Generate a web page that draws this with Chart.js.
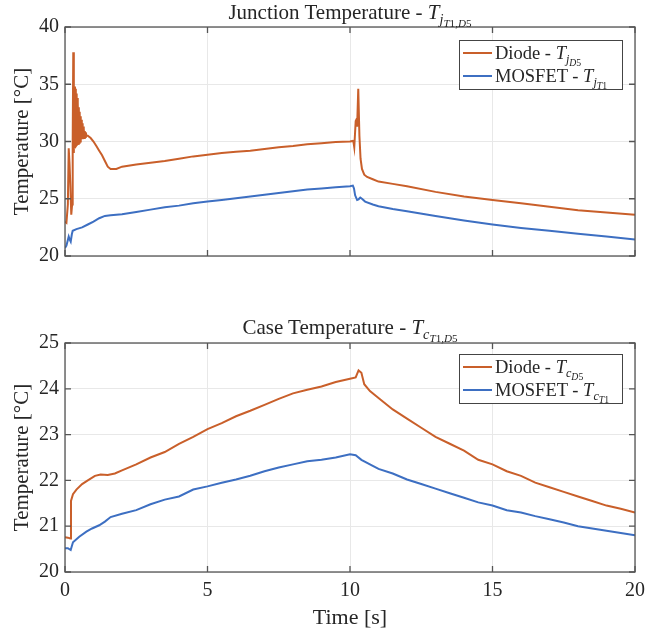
<!DOCTYPE html>
<html><head><meta charset="utf-8">
<script src="https://cdn.jsdelivr.net/npm/chart.js@4/dist/chart.umd.min.js"></script>
<style>
html,body{margin:0;padding:0;background:#fff;}
#wrap{position:relative;width:660px;height:631px;font-family:"Liberation Serif",serif;color:#262626;}
canvas{position:absolute;left:0;}
sub{line-height:0;vertical-align:-0.35em;}
sub sub{vertical-align:-0.3em;}
.title{position:absolute;left:65px;width:570px;text-align:center;font-size:21px;white-space:nowrap;line-height:24px;}
.title sub{font-size:68%;}
.title sub sub{font-size:78%;}
.legend{position:absolute;left:459px;width:162px;border:1px solid #444;background:#fff;font-size:18.5px;padding:0 0 2px 0;}
.legend .row{display:flex;align-items:center;height:23px;white-space:nowrap;line-height:22px;}
.legend .ln{width:29px;height:2px;margin-left:3px;margin-right:3px;flex:none;}
.legend sub{font-size:66%;}
.legend sub sub{font-size:80%;}
</style></head>
<body>
<div id="wrap">
  <canvas id="c1" width="660" height="300" style="top:0"></canvas>
  <canvas id="c2" width="660" height="331" style="top:300px"></canvas>
  <div class="title" style="top:0px">Junction Temperature - <i>T</i><sub><i>j</i><sub><i>T</i>1<i>,D</i>5</sub></sub></div>
  <div class="title" style="top:315px">Case Temperature - <i>T</i><sub><i>c</i><sub><i>T</i>1<i>,D</i>5</sub></sub></div>
  <div class="legend" style="top:40px">
    <div class="row"><span class="ln" style="background:#C95F2A"></span><span>Diode - <i>T</i><sub><i>j</i><sub><i>D</i>5</sub></sub></span></div>
    <div class="row"><span class="ln" style="background:#3D6FC2"></span><span>MOSFET - <i>T</i><sub><i>j</i><sub><i>T</i>1</sub></sub></span></div>
  </div>
  <div class="legend" style="top:354px">
    <div class="row"><span class="ln" style="background:#C95F2A"></span><span>Diode - <i>T</i><sub><i>c</i><sub><i>D</i>5</sub></sub></span></div>
    <div class="row"><span class="ln" style="background:#3D6FC2"></span><span>MOSFET - <i>T</i><sub><i>c</i><sub><i>T</i>1</sub></sub></span></div>
  </div>
</div>
<script>
// ---------- DATA ----------
const xTicks = [0, 5, 10, 15, 20];
const yTicksJ = [20, 25, 30, 35, 40];
const yTicksC = [20, 21, 22, 23, 24, 25];

// Junction temperature - Diode
const diodeJ_t = [0,0.05,0.1,0.13,0.16,0.19,0.22,0.25,0.27,0.29,0.31,0.335,0.35,0.365,0.38,0.395,0.41,0.425,0.44,0.455,0.47,0.485,0.5,0.515,0.53,0.545,0.56,0.575,0.59,0.605,0.62,0.635,0.65,0.665,0.68,0.695,0.71,0.73,0.75,0.8,0.9,1.0,1.1,1.2,1.3,1.4,1.5,1.6,1.8,2.0,2.5,3,3.5,4,4.5,5,5.5,6,6.5,7,7.5,8,8.5,9,9.5,10,10.1,10.12,10.15,10.2,10.22,10.25,10.29,10.33,10.37,10.42,10.5,10.6,10.8,11,11.5,12,13,14,15,16,17,18,19,20];
const diodeJ_v = [23.0,22.9,24.5,29.4,28.0,26.0,23.6,24.5,30.0,37.8,29.0,34.8,29.4,34.6,29.5,34.2,29.6,33.8,29.7,33.4,29.8,33.0,29.9,32.6,30.0,32.2,30.1,31.9,30.2,31.6,30.2,31.3,30.3,31.1,30.3,30.9,30.4,30.8,30.5,30.5,30.3,30.0,29.6,29.2,28.8,28.3,27.8,27.6,27.6,27.8,28.0,28.15,28.3,28.5,28.7,28.85,29.0,29.1,29.2,29.35,29.5,29.6,29.75,29.85,29.95,30.0,30.05,30.0,29.5,31.8,31.9,31.3,34.6,30.5,28.5,27.6,27.1,26.9,26.7,26.5,26.3,26.1,25.6,25.2,24.9,24.6,24.3,24.0,23.8,23.6];

// Junction temperature - MOSFET
const mosfetJ_t = [0,0.05,0.1,0.13,0.17,0.2,0.24,0.27,0.4,0.6,0.8,1.0,1.2,1.4,1.6,2,2.5,3,3.5,4,4.5,5,5.5,6,6.5,7,7.5,8,8.5,9,9.5,10,10.1,10.14,10.18,10.25,10.3,10.36,10.42,10.53,10.8,11,11.5,12,13,14,15,16,17,18,19,20];
const mosfetJ_v = [20.7,20.9,21.4,21.7,21.4,21.25,21.9,22.2,22.35,22.5,22.75,23.0,23.3,23.5,23.55,23.65,23.85,24.05,24.25,24.4,24.6,24.75,24.9,25.05,25.2,25.35,25.5,25.65,25.8,25.9,26.0,26.1,26.15,25.9,25.3,24.9,24.95,25.1,25.0,24.75,24.5,24.35,24.1,23.9,23.5,23.1,22.75,22.45,22.2,21.95,21.7,21.45];

// Case temperature - Diode
const diodeC_t = [0,0.1,0.19,0.21,0.28,0.4,0.6,0.8,1.05,1.25,1.5,1.75,2,2.5,3,3.5,4,4.5,5,5.5,6,6.5,7,7.5,8,8.5,9,9.5,10,10.2,10.3,10.4,10.5,10.7,11,11.5,12,12.5,13,13.5,14,14.5,15,15.5,16,16.5,17,17.5,18,18.5,19,19.5,20];
const diodeC_v = [20.76,20.75,20.73,21.55,21.7,21.8,21.92,22.0,22.1,22.13,22.12,22.15,22.22,22.35,22.5,22.62,22.8,22.95,23.12,23.25,23.4,23.52,23.65,23.78,23.9,23.98,24.05,24.15,24.22,24.25,24.4,24.35,24.1,23.95,23.8,23.55,23.35,23.15,22.95,22.8,22.65,22.45,22.35,22.2,22.1,21.95,21.85,21.75,21.65,21.55,21.45,21.38,21.3];

// Case temperature - MOSFET
const mosfetC_t = [0,0.1,0.2,0.28,0.5,0.75,0.95,1.2,1.4,1.6,2,2.5,3,3.5,4,4.5,5,5.5,6,6.5,7,7.5,8,8.5,9,9.5,10,10.2,10.4,10.7,11,11.5,12,12.5,13,13.5,14,14.5,15,15.5,16,16.5,17,17.5,18,18.5,19,19.5,20];
const mosfetC_v = [20.52,20.52,20.48,20.65,20.77,20.88,20.95,21.02,21.1,21.2,21.27,21.35,21.48,21.58,21.65,21.8,21.87,21.95,22.02,22.1,22.2,22.28,22.35,22.42,22.45,22.5,22.57,22.55,22.45,22.35,22.25,22.15,22.02,21.92,21.82,21.72,21.62,21.52,21.45,21.35,21.3,21.22,21.15,21.08,21.0,20.95,20.9,20.85,20.8];

// ---------- STYLE ----------
const ORANGE = '#C95F2A';
const BLUE = '#3D6FC2';
const AXIS = '#555555';
const GRID = '#e8e8e8';
const TXT = '#262626';
const FONT = 'Liberation Serif';

function pts(ts, vs){ return ts.map((t,i)=>({x:t, y:vs[i]})); }

const framePlugin = {
  id: 'frame',
  afterDraw(chart){
    const {ctx, chartArea:a, scales} = chart;
    const x = scales.x, y = scales.y;
    ctx.save();
    ctx.strokeStyle = AXIS;
    ctx.lineWidth = 1.3;
    ctx.strokeRect(a.left, a.top, a.right - a.left, a.bottom - a.top);
    const L = 6;
    ctx.beginPath();
    x.ticks.forEach(t => {
      const px = x.getPixelForValue(t.value);
      ctx.moveTo(px, a.bottom); ctx.lineTo(px, a.bottom - L);
      ctx.moveTo(px, a.top); ctx.lineTo(px, a.top + L);
    });
    y.ticks.forEach(t => {
      const py = y.getPixelForValue(t.value);
      ctx.moveTo(a.left, py); ctx.lineTo(a.left + L, py);
      ctx.moveTo(a.right, py); ctx.lineTo(a.right - L, py);
    });
    ctx.stroke();
    ctx.restore();
  }
};

function makeChart(id, series, yMin, yMax, yTicks, showX, pad, xHeight){
  return new Chart(document.getElementById(id), {
    type: 'line',
    data: {
      datasets: series.map(s => ({
        data: pts(s.t, s.v),
        borderColor: s.c,
        borderWidth: 2,
        pointRadius: 0,
        tension: 0,
        fill: false
      }))
    },
    options: {
      responsive: false,
      animation: false,
      events: [],
      layout: { padding: pad },
      plugins: { legend: { display: false }, title: { display: false }, tooltip: { enabled: false } },
      scales: {
        x: {
          type: 'linear', min: 0, max: 20,
          afterBuildTicks: sc => { sc.ticks = xTicks.map(v => ({value: v})); },
          afterFit: sc => { sc.height = xHeight; },
          ticks: { display: showX, color: TXT, font: { family: FONT, size: 20 }, padding: 7, maxRotation: 0 },
          grid: { color: GRID, drawTicks: false, lineWidth: 1 },
          border: { display: false },
          title: { display: showX, text: 'Time [s]', color: TXT, font: { family: FONT, size: 22 }, padding: { top: -2, bottom: 0 } }
        },
        y: {
          type: 'linear', min: yMin, max: yMax,
          afterBuildTicks: sc => { sc.ticks = yTicks.map(v => ({value: v})); },
          afterFit: sc => { sc.width = 65; },
          ticks: { color: TXT, font: { family: FONT, size: 20 }, padding: 6 },
          grid: { color: GRID, drawTicks: false, lineWidth: 1 },
          border: { display: false },
          title: { display: true, text: 'Temperature [\u00B0C]', color: TXT, font: { family: FONT, size: 21 }, padding: { top: 10, bottom: 0 } }
        }
      }
    },
    plugins: [framePlugin]
  });
}

makeChart('c1', [
  { t: diodeJ_t, v: diodeJ_v, c: ORANGE },
  { t: mosfetJ_t, v: mosfetJ_v, c: BLUE }
], 20, 40, yTicksJ, false, { top: 27, right: 25, left: 0, bottom: 0 }, 44);

makeChart('c2', [
  { t: diodeC_t, v: diodeC_v, c: ORANGE },
  { t: mosfetC_t, v: mosfetC_v, c: BLUE }
], 20, 25, yTicksC, true, { top: 43, right: 25, left: 0, bottom: 0 }, 59);
</script>
</body></html>
